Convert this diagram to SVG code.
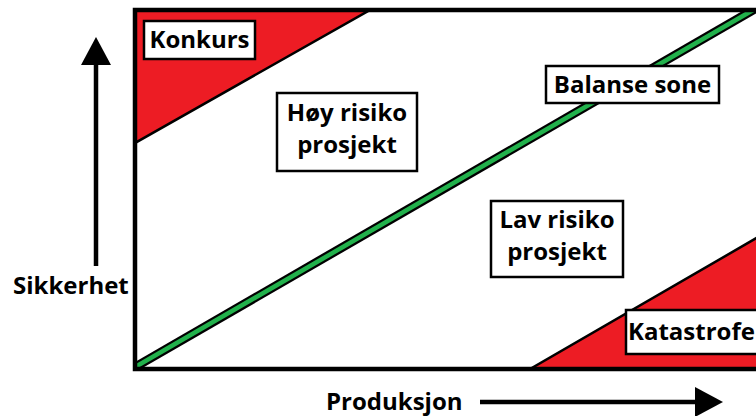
<svg xmlns="http://www.w3.org/2000/svg" width="756" height="416" viewBox="0 0 756 416">
<defs>
<style>
.lbl{font-family:"Open Sans","Noto Sans","Liberation Sans",sans-serif;font-weight:bold;font-size:24px;fill:#000}
.box{fill:#fff;stroke:#000;stroke-width:2.5}
.red{fill:#ED1C24;stroke:#000;stroke-width:2.5;stroke-linejoin:miter}
.axis{stroke:#000;stroke-width:4.5;fill:none}
</style>
<clipPath id="frame"><rect x="135" y="10" width="625" height="359"/></clipPath>
</defs>
<rect width="756" height="416" fill="#fff"/>
<g id="zones" clip-path="url(#frame)">
<polygon class="red" points="135,10 370,10 135,143"/>
<polygon class="red" points="530,369 760,236 760,369"/>
<line x1="130" y1="370" x2="760" y2="6" stroke="#000" stroke-width="9"/>
<line x1="130" y1="370" x2="760" y2="6" stroke="#22B14C" stroke-width="4.5"/>
</g>
<rect x="135" y="10" width="630" height="359" fill="none" stroke="#000" stroke-width="4.5"/>
<g id="connectors">
<line class="axis" x1="96" y1="266" x2="96" y2="60"/>
<polygon points="96,37 81,65 111,65" fill="#000"/>
<line class="axis" x1="480" y1="402" x2="700" y2="402"/>
<polygon points="723,402 695,387 695,417" fill="#000"/>
</g>
<g id="konkurs">
<rect class="box" x="144" y="21" width="111" height="38"/>
<text class="lbl" x="199.5" y="48" text-anchor="middle">Konkurs</text>
</g>
<g id="hoy-risiko">
<rect class="box" x="277" y="93" width="140" height="78"/>
<text class="lbl" x="347" y="121" text-anchor="middle">Høy risiko</text>
<text class="lbl" x="347" y="153" text-anchor="middle">prosjekt</text>
</g>
<g id="balanse-sone">
<rect class="box" x="546" y="66" width="173" height="37"/>
<text class="lbl" x="632.5" y="93" text-anchor="middle">Balanse sone</text>
</g>
<g id="lav-risiko">
<rect class="box" x="491" y="201" width="132" height="76"/>
<text class="lbl" x="557" y="228" text-anchor="middle">Lav risiko</text>
<text class="lbl" x="557" y="260" text-anchor="middle">prosjekt</text>
</g>
<g id="katastrofe">
<rect class="box" x="626" y="310" width="140" height="44"/>
<text class="lbl" x="628" y="340">Katastrofe</text>
</g>
<g id="sikkerhet">
<text class="lbl" x="13" y="294">Sikkerhet</text>
</g>
<g id="produksjon">
<text class="lbl" x="326" y="410">Produksjon</text>
</g>
</svg>
